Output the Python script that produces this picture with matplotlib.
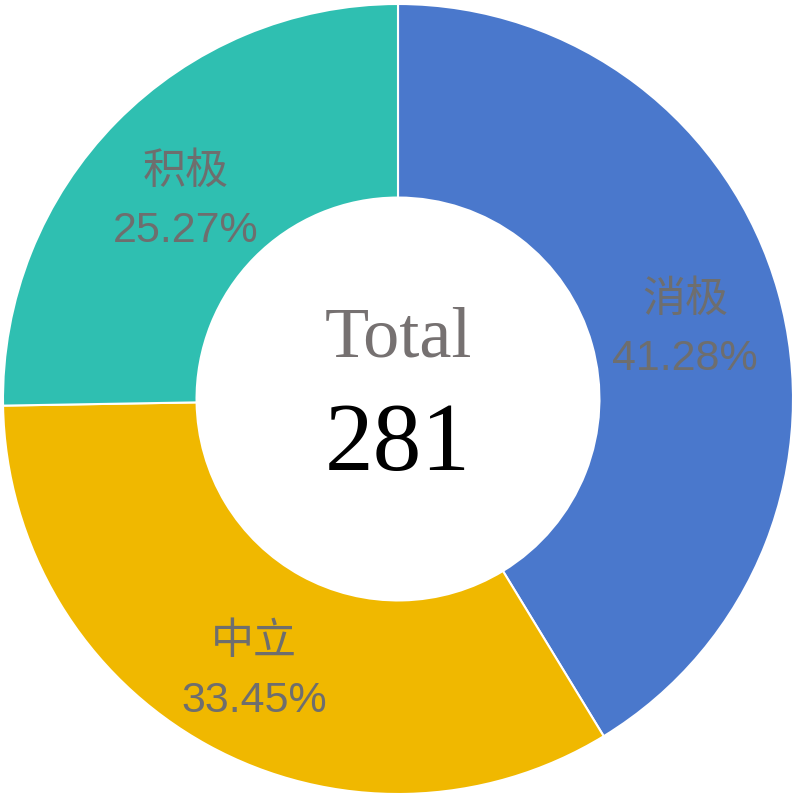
import matplotlib
matplotlib.use("Agg")
import matplotlib.pyplot as plt

categories = ["消极", "中立", "积极"]
counts = [116, 94, 71]
colors = ["#4A78CC", "#F0B800", "#2FBFB1"]

total = sum(counts)

fig = plt.figure(figsize=(7.95, 7.99), dpi=100)
ax = fig.add_axes([0, 0, 1, 1])

width = 0.49
wedges, texts, autotexts = ax.pie(
    counts, colors=colors, startangle=90, counterclock=False,
    radius=1.0, wedgeprops=dict(width=width, edgecolor="white", linewidth=1.5),
    autopct=lambda p: "", pctdistance=1 - width / 2,
)

# pie() resets the limits, so set them afterwards
radius = 395
cx, cy = 398, 399
ax.set_xlim(-cx / radius, (795 - cx) / radius)
ax.set_ylim(-(799 - cy) / radius, cy / radius)
ax.set_aspect("equal")
ax.axis("off")

for name, w, t in zip(categories, wedges, autotexts):
    pct = abs(w.theta2 - w.theta1)
    t.set_text(f"{name}\n{pct / 360 * 100:.2f}%")
    t.set_fontsize(31)
    t.set_color("#6E6E6E")
    t.set_family(["Liberation Sans", "Noto Sans CJK SC"])
    t.set_linespacing(1.6)
    x, y = t.get_position()
    t.set_position((x, y - 0.03))

ax.text(0, 0.152, "Total", ha="center", va="center", fontsize=52,
        family="Liberation Serif", color="#767171")
ax.text(0, -0.122, str(total), ha="center", va="center", fontsize=70,
        family="Liberation Serif", color="black")

fig.savefig("out.png", dpi=100)
